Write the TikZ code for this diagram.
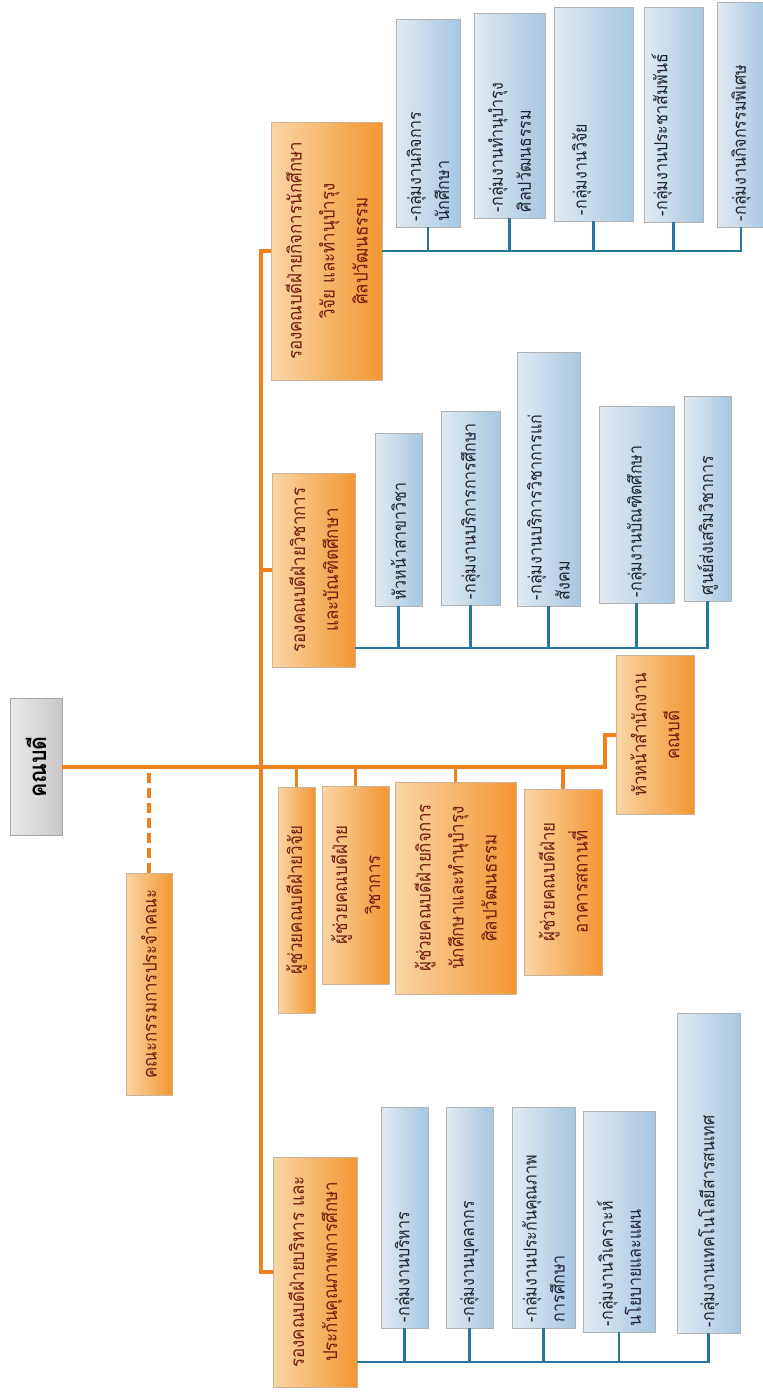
\documentclass[tikz,border=0pt]{standalone}
\usepackage{fontspec}
\usepackage{tikz}
\newfontfamily\thaifont[Script=Thai,FakeStretch=0.89]{Loma}
\definecolor{linorange}{RGB}{242,128,28}
\definecolor{linblue}{RGB}{38,118,160}
\definecolor{orlight}{RGB}{250,214,165}
\definecolor{ordark}{RGB}{242,150,50}
\definecolor{bllight}{RGB}{226,234,241}
\definecolor{bldark}{RGB}{166,199,226}
\definecolor{redtext}{RGB}{115,28,16}
\definecolor{bluetext}{RGB}{30,36,48}

\begin{document}
\begin{tikzpicture}[x=1pt,y=-1pt,
  hbox/.style={rotate=90,draw=black!35,left color=black!8,right color=violet!10!black!22,font=\thaifont\fontsize{24}{28}\selectfont\bfseries},
  obox/.style={rotate=90,draw=orange!50!black!40,left color=orlight,right color=ordark,text=redtext,align=center,inner xsep=4pt,font=\thaifont\fontsize{19}{33}\selectfont},
  bbox/.style={rotate=90,draw=black!30,left color=bllight,right color=bldark,text=bluetext,align=left,inner xsep=6pt,text width=#1,font=\thaifont\fontsize{18}{28}\selectfont},
  oline/.style={draw=linorange,line width=3.6pt},
  bline/.style={draw=linblue,line width=2.8pt}]
\useasboundingbox (0,0) rectangle (763,1393);

% dean and committee
\node[hbox,minimum width=137pt,minimum height=52pt] (dean) at (36,767) {คณบดี};
\node[obox,minimum width=222pt,minimum height=46pt] (board) at (149,984) {คณะกรรมการประจำคณะ};

% associate deans
\node[obox,minimum width=258pt,minimum height=111pt] (vpStu) at (326.5,251) {รองคณบดีฝ่ายกิจการนักศึกษา\\วิจัย และทำนุบำรุง\\ศิลปวัฒนธรรม};
\node[obox,minimum width=194pt,minimum height=83pt] (vpAca) at (313.5,570) {รองคณบดีฝ่ายวิชาการ\\และบัณฑิตศึกษา};
\node[obox,minimum width=230pt,minimum height=84pt] (vpAdm) at (315,1272) {รองคณบดีฝ่ายบริหาร และ\\ประกันคุณภาพการศึกษา};

% assistants
\node[obox,minimum width=226pt,minimum height=37pt] (as1) at (296.5,900) {ผู้ช่วยคณบดีฝ่ายวิจัย};
\node[obox,minimum width=198pt,minimum height=67pt] (as2) at (355.5,885) {ผู้ช่วยคณบดีฝ่าย\\วิชาการ};
\node[obox,minimum width=212pt,minimum height=121pt] (as3) at (455.5,888) {ผู้ช่วยคณบดีฝ่ายกิจการ\\นักศึกษาและทำนุบำรุง\\ศิลปวัฒนธรรม};
\node[obox,minimum width=186pt,minimum height=78pt] (as4) at (563,882) {ผู้ช่วยคณบดีฝ่าย\\อาคารสถานที่};
\node[obox,minimum width=159pt,minimum height=78pt] (office) at (655,735) {หัวหน้าสำนักงาน\\คณบดี};

% student affairs groups
\node[bbox=196pt,minimum height=64pt] (stu1) at (428,123) {-กลุ่มงานกิจการ\\นักศึกษา};
\node[bbox=193pt,minimum height=71pt] (stu2) at (509.5,115.5) {-กลุ่มงานทำนุบำรุง\\ศิลปวัฒนธรรม};
\node[bbox=202pt,minimum height=79pt] (stu3) at (593.5,114) {-กลุ่มงานวิจัย\\~};
\node[bbox=203pt,minimum height=59pt] (stu4) at (673.5,114.5) {-กลุ่มงานประชาสัมพันธ์\\~};
\node[bbox=213pt,minimum height=48pt] (stu5) at (741,114.5) {-กลุ่มงานกิจกรรมพิเศษ};

% academic groups
\node[bbox=161pt,minimum height=47pt] (aca1) at (398.5,519.5) {หัวหน้าสาขาวิชา};
\node[bbox=182pt,minimum height=59pt] (aca2) at (470.5,508) {-กลุ่มงานบริการการศึกษา};
\node[bbox=242pt,minimum height=63pt] (aca3) at (548.5,479) {-กลุ่มงานบริการวิชาการแก่\\สังคม};
\node[bbox=185pt,minimum height=75pt] (aca4) at (636.5,504.5) {-กลุ่มงานบัณฑิตศึกษา};
\node[bbox=193pt,minimum height=47pt] (aca5) at (707.5,498.5) {ศูนย์ส่งเสริมวิชาการ};

% administration groups
\node[bbox=209pt,minimum height=47pt] (adm1) at (404.5,1217.5) {-กลุ่มงานบริหาร};
\node[bbox=209pt,minimum height=47pt] (adm2) at (469.5,1217.5) {-กลุ่มงานบุคลากร};
\node[bbox=209pt,minimum height=63pt] (adm3) at (543.5,1217.5) {-กลุ่มงานประกันคุณภาพ\\การศึกษา};
\node[bbox=209pt,minimum height=72pt] (adm4) at (619,1221.5) {-กลุ่มงานวิเคราะห์\\นโยบายและแผน};
\node[bbox=308pt,minimum height=63pt] (adm5) at (708.5,1173) {-กลุ่มงานเทคโนโลยีสารสนเทศ};

% orange lines
\coordinate (spine) at (261,767);
\draw[oline] (dean.south) -| ([xshift=-11pt]office.north) -- (office.north);
\draw[oline,dash pattern=on 10pt off 5pt] (board.east) -- (board.east |- dean.south);
\draw[oline] (vpStu.north) -| (spine) |- (vpAdm.north);
\draw[oline] (vpAca.north) -- (vpAca.north -| spine);
\draw[oline] (as1.east) -- (as1.east |- spine);
\draw[oline] (as2.east) -- (as2.east |- spine);
\draw[oline] (as3.east) -- (as3.east |- spine);
\draw[oline] (as4.east) -- (as4.east |- spine);

% blue lines
\draw[bline] (vpStu.south) -| (stu5.west);
\draw[bline] (stu1.west) -- (stu1.west |- vpStu.south);
\draw[bline] (stu2.west) -- (stu2.west |- vpStu.south);
\draw[bline] (stu3.west) -- (stu3.west |- vpStu.south);
\draw[bline] (stu4.west) -- (stu4.west |- vpStu.south);

\coordinate (acaBus) at (355,648);
\draw[bline] (acaBus) -| (aca5.west);
\draw[bline] (aca1.west) -- (aca1.west |- acaBus);
\draw[bline] (aca2.west) -- (aca2.west |- acaBus);
\draw[bline] (aca3.west) -- (aca3.west |- acaBus);
\draw[bline] (aca4.west) -- (aca4.west |- acaBus);

\coordinate (admBus) at (357,1362);
\draw[bline] (admBus) -| (adm5.west);
\draw[bline] (adm1.west) -- (adm1.west |- admBus);
\draw[bline] (adm2.west) -- (adm2.west |- admBus);
\draw[bline] (adm3.west) -- (adm3.west |- admBus);
\draw[bline] (adm4.west) -- (adm4.west |- admBus);

\end{tikzpicture}
\end{document}
